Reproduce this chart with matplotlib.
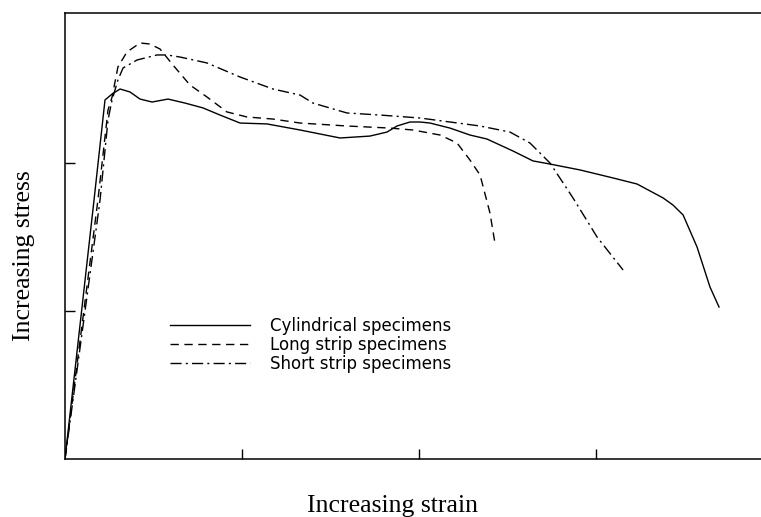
import numpy as np
import matplotlib
matplotlib.use('Agg')
import matplotlib.pyplot as plt

# cylindrical specimens (solid)
cyl_x = [0, 0.164, 0.226, 0.266, 0.311, 0.367, 0.424, 0.492, 0.582, 0.678, 0.780,
         0.876, 0.989, 1.141, 1.328, 1.554, 1.723, 1.819, 1.876, 1.949, 2.006,
         2.062, 2.175, 2.288, 2.384, 2.531, 2.644, 2.740, 2.910, 3.096, 3.232,
         3.379, 3.435, 3.492, 3.571, 3.644, 3.695]
cyl_y = [0, 1.750, 2.426, 2.466, 2.500, 2.480, 2.432, 2.412, 2.432, 2.405, 2.372,
         2.324, 2.270, 2.264, 2.223, 2.169, 2.182, 2.209, 2.250, 2.277, 2.277,
         2.270, 2.236, 2.189, 2.162, 2.081, 2.014, 1.993, 1.953, 1.899, 1.858,
         1.764, 1.716, 1.649, 1.432, 1.162, 1.027]

# long strip specimens (dashed)
long_x = [0, 0.186, 0.243, 0.266, 0.299, 0.350, 0.424, 0.480, 0.537, 0.610, 0.706,
          0.802, 0.915, 1.028, 1.175, 1.328, 1.593, 1.836, 1.966, 2.119, 2.215,
          2.288, 2.345, 2.401, 2.429]
long_y = [0, 1.750, 2.358, 2.446, 2.649, 2.750, 2.811, 2.804, 2.770, 2.662, 2.527,
          2.446, 2.345, 2.311, 2.297, 2.270, 2.250, 2.236, 2.223, 2.189, 2.135,
          2.020, 1.919, 1.662, 1.459]

# short strip specimens (dash-dot)
short_x = [0, 0.198, 0.243, 0.266, 0.299, 0.328, 0.407, 0.520, 0.576, 0.650, 0.802,
           0.989, 1.175, 1.328, 1.401, 1.593, 1.780, 2.006, 2.175, 2.345, 2.514,
           2.627, 2.740, 2.870, 3.006, 3.153]
short_y = [0, 1.750, 2.291, 2.426, 2.561, 2.642, 2.696, 2.730, 2.730, 2.716, 2.676,
           2.581, 2.500, 2.459, 2.405, 2.338, 2.324, 2.304, 2.277, 2.250, 2.209,
           2.135, 2.000, 1.764, 1.500, 1.277]

labels = ['Cylindrical specimens', 'Long strip specimens', 'Short strip specimens']

fig = plt.figure(figsize=(7.61, 5.17), dpi=100)
ax = fig.add_axes([65/761, 58/517, 696/761, 446/517])

ax.plot(cyl_x, cyl_y, color='black', lw=1.0, ls='-', label=labels[0])
ax.plot(long_x, long_y, color='black', lw=1.0, ls=(0, (6, 4)), label=labels[1])
ax.plot(short_x, short_y, color='black', lw=1.0, ls=(0, (8, 3, 1.5, 3)), label=labels[2])

ax.set_xlim(0, 696/177)
ax.set_ylim(0, 446/148)
ax.set_xticks([1, 2, 3])
ax.set_yticks([1, 2])
ax.set_xticklabels([])
ax.set_yticklabels([])
ax.tick_params(direction='in', length=7, width=1.0, color='black')
ax.spines['right'].set_visible(False)
for s in ['left', 'top', 'bottom']:
    ax.spines[s].set_linewidth(1.1)

ax.set_xlabel('Increasing strain', family='Liberation Serif', fontsize=18.5)
ax.set_ylabel('Increasing stress', family='Liberation Serif', fontsize=18.5)
ax.xaxis.set_label_coords(0.471, -0.08)
ax.yaxis.set_label_coords(-0.043, 0.457)

ax.legend(loc='upper left', bbox_to_anchor=(0.151, 0.318), frameon=False,
          prop={'family': 'DejaVu Sans', 'size': 12}, handlelength=4.8,
          handletextpad=1.2, labelspacing=0.05, borderpad=0, borderaxespad=0)

plt.savefig('out.png', dpi=100)
